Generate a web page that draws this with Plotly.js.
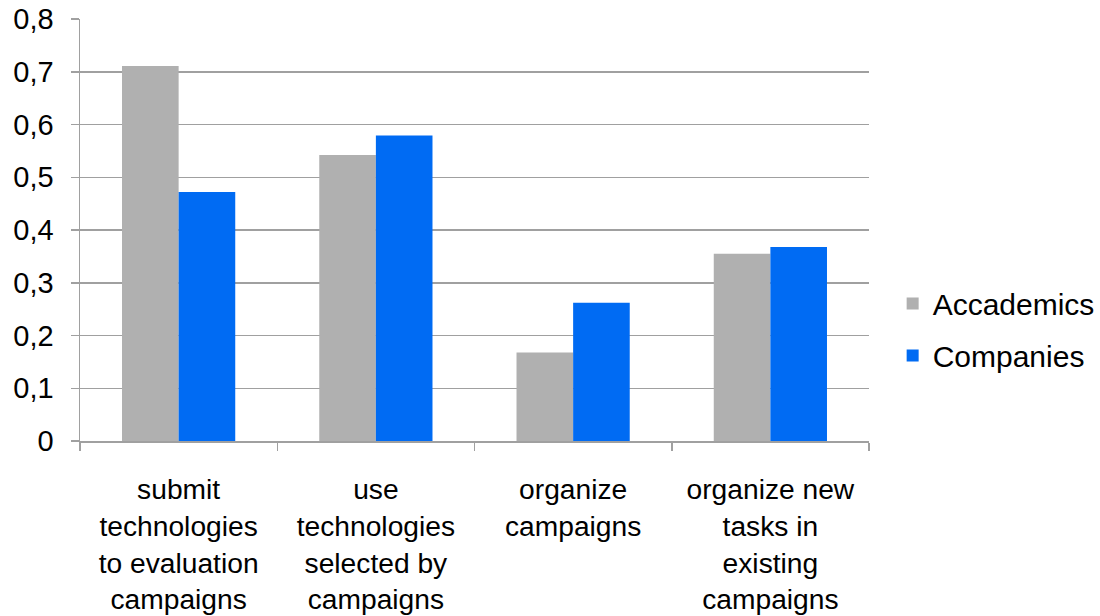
<!DOCTYPE html>
<html>
<head>
<meta charset="utf-8">
<script src="https://cdn.plot.ly/plotly-3.0.1.min.js"></script>
<style>html,body{margin:0;padding:0;background:#fff;}#chart{width:1100px;height:616px;}</style>
</head>
<body>
<div id="chart"></div>
<script>
const categories = [
  "submit<br>technologies<br>to evaluation<br>campaigns",
  "use<br>technologies<br>selected by<br>campaigns",
  "organize<br>campaigns",
  "organize new<br>tasks in<br>existing<br>campaigns"
];
const academics = [0.711, 0.542, 0.168, 0.355];
const companies = [0.472, 0.579, 0.262, 0.368];
const yTickVals = [0, 0.1, 0.2, 0.3, 0.4, 0.5, 0.6, 0.7, 0.8];
const yTickText = ["0", "0,1", "0,2", "0,3", "0,4", "0,5", "0,6", "0,7", "0,8"];

const family = "Liberation Sans, Arial, sans-serif";
const yFont = {family: family, size: 29, color: "#000"};
const xFont = {family: family, size: 28.2, color: "#000"};
const legendFont = {family: family, size: 30, color: "#000"};

const traces = [
  {type: "bar", name: "Accademics", x: categories, y: academics, legendgroup: "a",
   marker: {color: "#b0b0b0", line: {width: 0}}},
  {type: "bar", name: "Companies", x: categories, y: companies, legendgroup: "b",
   marker: {color: "#006bf3", line: {width: 0}}}
];

const layout = {
  width: 1100, height: 616,
  margin: {l: 80, r: 231, t: 19, b: 175},
  paper_bgcolor: "#fff", plot_bgcolor: "#fff",
  font: yFont,
  barmode: "group",
  bargap: 0.426, bargroupgap: 0,
  showlegend: true,
  legend: {xref: "container", yref: "container", x: 0.8115, xanchor: "left", y: 0.465, yanchor: "middle",
           font: legendFont, bgcolor: "rgba(0,0,0,0)", tracegroupgap: 10},
  xaxis: {
    type: "category",
    showline: true, linecolor: "#a0a0a0", linewidth: 1.5,
    ticks: "outside", tickson: "boundaries", ticklen: 8, tickcolor: "#a0a0a0", tickwidth: 1.5,
    tickfont: xFont, ticklabelstandoff: 23, showgrid: false, zeroline: false, automargin: false
  },
  yaxis: {
    range: [0, 0.8],
    tickvals: yTickVals, ticktext: yTickText,
    showline: true, linecolor: "#a0a0a0", linewidth: 1.5,
    ticks: "outside", ticklen: 8, tickcolor: "#a0a0a0", tickwidth: 1.5,
    showgrid: true, gridcolor: "#a0a0a0", gridwidth: 1.5,
    zeroline: false, tickfont: yFont, ticklabelstandoff: 11, automargin: false
  }
};

Plotly.newPlot("chart", traces, layout, {displayModeBar: false, staticPlot: true});
</script>
</body>
</html>
